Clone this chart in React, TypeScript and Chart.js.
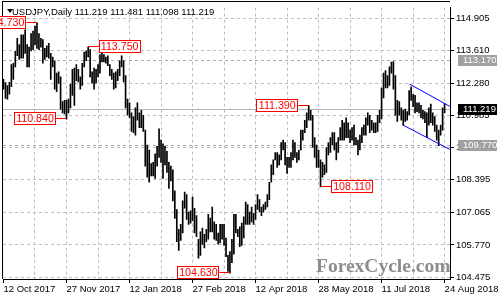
import React, { useEffect, useRef } from "react";
import { Chart, registerables } from "chart.js";

Chart.register(...registerables);

// ---------- data ----------
const titleText = "USDJPY,Daily 111.219 111.481 111.098 111.219";
const watermarkText = "ForexCycle.com";

// daily lows / highs, 12 Oct 2017 .. 24 Aug 2018 (one entry per trading day)
const barLows = [
  112.05, 111.68, 111.65, 111.85, 112.15, 112.45, 112.95, 113.40, 113.25, 113.30, 113.30, 113.50,
  112.95, 112.95, 113.60, 113.65, 113.85, 113.70, 113.65, 113.75, 113.10, 113.25, 113.35, 113.30, 112.45, 112.95, 112.05, 111.95, 112.30, 111.25, 111.10, 111.05,
  110.84, 111.10, 111.30, 111.80, 111.40, 112.40, 112.35, 112.05, 112.20, 112.95, 113.20, 113.35, 112.55, 112.30, 112.05, 112.30, 112.55, 112.70, 113.15, 113.15, 113.10, 113.00, 112.60, 112.45,
  112.05, 112.10, 112.40, 112.60, 112.95, 112.35, 111.30, 111.00, 110.90, 110.35, 110.30, 110.20, 110.80, 110.50, 110.50, 110.35, 108.95, 108.50, 108.30, 108.55, 108.55, 108.45,
  108.95, 109.30, 109.10, 108.45, 109.00, 108.70, 108.05, 108.35, 107.55, 106.84, 105.90, 105.55, 105.95, 106.25, 107.25, 106.80, 106.60, 106.65, 106.75, 106.25,
  106.10, 105.24, 105.35, 105.80, 105.65, 105.90, 106.00, 106.30, 106.30, 106.00, 105.95, 105.80, 105.85, 106.00, 105.75, 105.30, 104.70, 104.63, 105.05, 105.40, 106.25, 106.10,
  105.70, 105.75, 106.05, 106.60, 106.60, 106.60, 106.70, 106.60, 106.80, 107.20, 107.10, 106.95, 107.10, 107.20, 107.30, 107.60, 108.30, 108.60, 109.20, 108.90, 109.00,
  109.20, 109.60, 109.00, 108.65, 108.90, 108.90, 109.20, 109.30, 109.10, 109.20, 109.60, 110.00, 110.30, 110.50, 110.80, 110.80, 109.70, 109.30, 108.90, 108.90, 108.11, 108.50, 108.60,
  108.70, 109.40, 109.50, 109.80, 109.60, 109.20, 109.50, 110.00, 110.00, 110.00, 110.10, 110.10, 109.90, 110.00, 109.80, 109.80, 109.40, 109.60, 109.90, 110.20, 110.20,
  110.60, 110.30, 110.40, 110.30, 110.30, 110.35, 110.70, 110.85, 111.70, 112.10, 112.10, 112.20, 112.70, 112.05, 111.00, 110.75, 111.00, 110.80, 110.60, 110.75, 110.80, 111.00,
  111.60, 111.35, 111.10, 111.15, 111.10, 110.90, 110.85, 110.70, 110.10, 110.60, 110.70, 110.60, 110.35, 110.00, 109.77, 110.20, 110.40, 111.10,
];
const barHighs = [
  112.45, 112.32, 112.20, 112.33, 113.05, 113.10, 113.58, 114.10, 113.85, 114.25, 114.25, 114.45,
  113.85, 113.75, 114.30, 114.40, 114.60, 114.73, 114.30, 114.10, 114.05, 113.70, 113.80, 113.90, 113.50, 113.35, 113.20, 112.70, 112.75, 112.55, 111.55, 111.60,
  111.60, 111.65, 112.25, 112.85, 112.90, 113.05, 112.85, 112.55, 113.10, 113.55, 113.60, 113.75, 113.65, 112.75, 112.90, 112.85, 113.05, 113.45, 113.50, 113.45, 113.35, 113.40, 113.05, 112.85,
  112.70, 112.75, 112.85, 113.20, 113.40, 113.20, 112.60, 111.65, 111.50, 111.10, 110.95, 111.30, 111.50, 111.10, 111.20, 111.00, 110.40, 109.80, 109.60, 109.05, 109.10, 109.45,
  109.75, 110.45, 110.00, 109.85, 109.75, 109.55, 109.10, 108.95, 108.80, 107.95, 107.20, 106.40, 106.60, 107.55, 107.90, 107.80, 107.10, 107.15, 107.70, 107.25,
  106.95, 106.00, 106.30, 106.45, 106.20, 106.40, 107.00, 106.85, 107.30, 106.70, 106.60, 106.25, 106.60, 106.60, 106.60, 106.05, 105.35, 105.50, 106.00, 107.00, 107.00, 106.40,
  106.50, 106.65, 106.90, 107.50, 107.40, 107.10, 107.30, 107.05, 107.40, 107.80, 107.60, 107.30, 107.40, 107.50, 107.80, 108.30, 109.00, 109.20, 109.50, 109.50, 109.40,
  109.90, 110.00, 109.90, 109.30, 109.30, 109.50, 110.00, 109.90, 109.50, 109.60, 110.40, 110.40, 110.80, 111.10, 111.39, 111.20, 111.00, 110.10, 109.80, 109.60, 109.20, 109.10, 109.00,
  109.70, 109.90, 110.10, 110.30, 110.30, 109.90, 110.10, 110.50, 110.80, 110.70, 110.90, 110.70, 110.40, 110.50, 110.60, 110.10, 110.00, 110.20, 110.50, 110.60, 110.90,
  111.10, 111.00, 110.80, 110.70, 110.70, 111.00, 111.20, 112.10, 112.70, 112.80, 112.60, 112.95, 113.15, 113.17, 112.60, 111.60, 111.55, 111.30, 111.20, 111.25, 111.15, 112.00,
  112.15, 111.85, 111.80, 111.50, 111.50, 111.40, 111.20, 111.15, 111.10, 111.30, 111.45, 111.10, 110.95, 110.60, 110.40, 110.60, 111.30, 111.48,
];

const xTickLabels = ["12 Oct 2017", "27 Nov 2017", "12 Jan 2018", "27 Feb 2018", "12 Apr 2018", "28 May 2018", "11 Jul 2018", "24 Aug 2018"];
const xLabelIdx = [0, 32, 64, 96, 128, 160, 192, 224];
const xGridIdx = [0, 16, 32, 48, 64, 80, 96, 112, 128, 144, 160, 176, 192, 208, 224];
const yTickValues = [114.905, 113.61, 112.28, 110.985, 109.69, 108.395, 107.065, 105.77, 104.475];

const currentPrice = 111.219;
const resistanceLevel = 113.17;
const supportLevel = 109.77;

const swingIdx = [17, 43, 32, 155, 161, 115];
const swingVals = [114.73, 113.75, 110.84, 111.39, 108.11, 104.63];
const swingSide = [-1, 1, -1, -1, 1, -1];

const channelUpper = [{ x: 206.25, y: 112.258 }, { x: 226.6, y: 111.361 }];
const channelLower = [{ x: 202.75, y: 110.61 }, { x: 226.6, y: 109.623 }];

// ---------- styles ----------
const FONT = "'Liberation Sans', Arial, sans-serif";
const GRID = "#bdbdbd";
const X_MIN = -0.25;
const X_MAX = 226.75;
const Y_MIN = 104.396;
const Y_MAX = 115.3396;

const overlay = {
  id: "overlay",
  beforeDatasetsDraw(chart: any) {
    const { ctx, chartArea: a, scales } = chart;
    const y = scales.y;
    ctx.save();
    // watermark
    ctx.font = `bold 19.5px 'Liberation Serif', 'Times New Roman', serif`;
    ctx.fillStyle = "#8d8d8d";
    ctx.textAlign = "left";
    ctx.textBaseline = "alphabetic";
    ctx.fillText(watermarkText, 316, 271.5);
    // levels
    ctx.lineWidth = 1;
    const yc = Math.round(y.getPixelForValue(currentPrice)) - 0.5;
    ctx.strokeStyle = "#b8b8b8";
    ctx.setLineDash([]);
    ctx.beginPath();
    ctx.moveTo(a.left, yc);
    ctx.lineTo(a.right, yc);
    ctx.stroke();
    ctx.setLineDash([3, 3]);
    ctx.strokeStyle = "#a8a8a8";
    for (const v of [resistanceLevel, supportLevel]) {
      const yy = Math.round(y.getPixelForValue(v)) - 0.5;
      ctx.beginPath();
      ctx.moveTo(a.left, yy);
      ctx.lineTo(a.right, yy);
      ctx.stroke();
    }
    ctx.restore();
  },
  afterDraw(chart: any) {
    const { ctx, chartArea: a, scales } = chart;
    const x = scales.x;
    const y = scales.y;
    ctx.save();
    // frame left / top
    ctx.strokeStyle = "#000";
    ctx.lineWidth = 1;
    ctx.beginPath();
    ctx.moveTo(2.5, 1);
    ctx.lineTo(2.5, a.bottom);
    ctx.moveTo(2, 1.5);
    ctx.lineTo(a.right, 1.5);
    ctx.stroke();

    // title
    ctx.fillStyle = "#000";
    ctx.font = `9.5px ${FONT}`;
    ctx.textAlign = "left";
    ctx.textBaseline = "middle";
    ctx.fillText(titleText, 12, 12);
    ctx.beginPath();
    ctx.moveTo(7, 9);
    ctx.lineTo(13, 9);
    ctx.lineTo(10, 13);
    ctx.closePath();
    ctx.fill();

    // swing labels
    ctx.font = `10.67px ${FONT}`;
    ctx.textAlign = "center";
    for (let k = 0; k < swingIdx.length; k++) {
      const ax = x.getPixelForValue(swingIdx[k]);
      const cy = Math.round(y.getPixelForValue(swingVals[k])) - 1;
      const w = 42;
      const h = 12;
      const bx = swingSide[k] < 0 ? ax - 10.5 - w : ax + 10.5;
      const by = cy - 6;
      ctx.fillStyle = "#fff";
      ctx.fillRect(bx, by, w, h);
      ctx.strokeStyle = "#ff0000";
      ctx.lineWidth = 1;
      ctx.strokeRect(Math.round(bx) + 0.5, by + 0.5, w - 1, h);
      ctx.beginPath();
      const ex = swingSide[k] < 0 ? bx + w : bx;
      ctx.moveTo(ax, cy + 0.5);
      ctx.lineTo(ex, cy + 0.5);
      ctx.stroke();
      ctx.fillStyle = "#ff0000";
      ctx.fillText(swingVals[k].toFixed(3), bx + w / 2, cy + 1);
    }

    // price boxes on axis
    ctx.font = `9.5px ${FONT}`;
    ctx.textAlign = "left";
    const boxes = [
      { v: resistanceLevel, bg: "#a0a0a0", fg: "#ffffff" },
      { v: supportLevel, bg: "#a0a0a0", fg: "#ffffff" },
      { v: currentPrice, bg: "#000000", fg: "#ffffff" },
    ];
    for (const b of boxes) {
      const cy = Math.round(y.getPixelForValue(b.v)) - 1;
      ctx.fillStyle = b.bg;
      ctx.fillRect(458, cy - 5, 39, 11);
      ctx.fillStyle = b.fg;
      ctx.fillText(b.v.toFixed(3), 463, cy + 0.5);
    }
    ctx.restore();
  },
};

export default function App() {
  const ref = useRef<HTMLCanvasElement | null>(null);
  useEffect(() => {
    document.body.style.margin = "0";
    const canvas = ref.current;
    if (!canvas) return;
    const chart = new Chart(canvas, {
      type: "bar",
      data: {
        datasets: [
          {
            type: "line",
            data: channelUpper,
            borderColor: "#0000ff",
            borderWidth: 1,
            pointRadius: 0,
            order: 0,
          } as any,
          {
            type: "line",
            data: channelLower,
            borderColor: "#0000ff",
            borderWidth: 1,
            pointRadius: 0,
            order: 0,
          } as any,
          {
            type: "bar",
            data: barLows.map((l, i) => ({ x: i, y: [l, barHighs[i]] })),
            backgroundColor: "#000000",
            borderWidth: 0,
            barThickness: 1,
            order: 1,
          } as any,
        ],
      },
      options: {
        animation: false,
        responsive: false,
        maintainAspectRatio: false,
        devicePixelRatio: 1,
        layout: { padding: { left: 3, top: 2, right: 0, bottom: 0 } },
        plugins: { legend: { display: false }, tooltip: { enabled: false }, title: { display: false } },
        scales: {
          x: {
            type: "linear",
            min: X_MIN,
            max: X_MAX,
            offset: false,
            afterBuildTicks: (s: any) => {
              s.ticks = xGridIdx.map((v) => ({ value: v }));
            },
            afterFit: (s: any) => {
              s.height = 21;
            },
            grid: {
              offset: false,
              color: (c: any) => (c.tick && c.tick.value === 0 ? "rgba(0,0,0,0)" : GRID),
              tickLength: 4,
              tickColor: (c: any) => (c.tick && xLabelIdx.includes(c.tick.value) ? "#000" : "rgba(0,0,0,0)"),
              tickBorderDash: [],
            },
            border: { display: true, color: "#000", dash: [3, 3] },
            ticks: {
              autoSkip: false,
              maxRotation: 0,
              minRotation: 0,
              align: "start",
              padding: 1,
              color: "#000",
              font: { family: FONT, size: 9.5 },
              callback: (v: any) => {
                const k = xLabelIdx.indexOf(Number(v));
                return k >= 0 ? xTickLabels[k] : "";
              },
            },
          },
          y: {
            type: "linear",
            position: "right",
            min: Y_MIN,
            max: Y_MAX,
            afterBuildTicks: (s: any) => {
              s.ticks = yTickValues.map((v) => ({ value: v }));
            },
            afterFit: (s: any) => {
              s.width = 43;
            },
            grid: {
              color: GRID,
              tickLength: 4,
              tickColor: "#000",
              tickBorderDash: [],
            },
            border: { display: true, color: "#000", dash: [3, 3] },
            ticks: {
              autoSkip: false,
              padding: 2,
              color: "#000",
              font: { family: FONT, size: 9.5 },
              callback: (v: any) => Number(v).toFixed(3),
            },
          },
        },
      } as any,
      plugins: [overlay],
    });
    return () => chart.destroy();
  }, []);
  return <canvas ref={ref} width={500} height={300} style={{ display: "block", width: 500, height: 300 }} />;
}
